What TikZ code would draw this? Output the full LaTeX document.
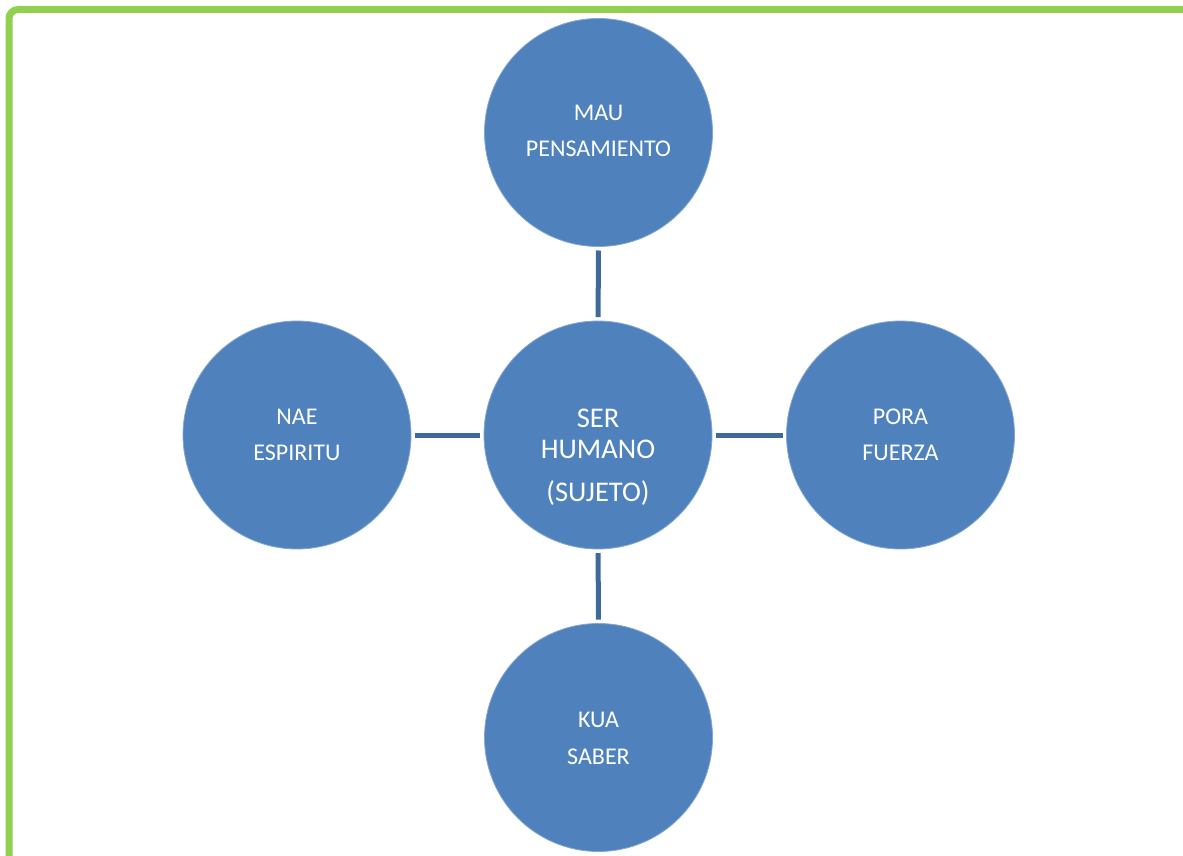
\documentclass[tikz,border=0pt]{standalone}
\usepackage{fontspec}
\setmainfont{Carlito}
\definecolor{circblue}{HTML}{4F81BD}
\definecolor{linkblue}{HTML}{3E6A9B}
\definecolor{framegreen}{HTML}{92D050}
\begin{document}
\begin{tikzpicture}[x=1pt,y=-1pt,
  bubble/.style={circle,fill=circblue,draw=circblue!70!white,line width=0.8pt,minimum size=228pt,inner sep=0pt,outer sep=0pt},
  txt/.style={text=white,font=\fontsize{24}{36}\selectfont,anchor=base,inner sep=0pt},
  bigtxt/.style={text=white,font=\fontsize{28.5}{36}\selectfont,anchor=base,inner sep=0pt},
  link/.style={draw=linkblue,line width=5pt,shorten <=4pt,shorten >=4pt}]
\useasboundingbox (0,0) rectangle (1183,856);
\clip (0,0) rectangle (1183,856);
\fill[white] (0,0) rectangle (1183,856);
\draw[framegreen,line width=7pt,rounded corners=9pt] (9,870) -- (9,9.5) -- (1200,9.5);
\node[bubble] (c) at (598,435) {};
\node[bubble] (top) at (598.5,132.5) {};
\node[bubble] (left) at (297,435) {};
\node[bubble] (right) at (900.5,435) {};
\node[bubble] (bot) at (598.5,737.5) {};
\draw[link] (top) -- (c);
\draw[link] (left) -- (c);
\draw[link] (c) -- (right);
\draw[link] (c) -- (bot);
\node[bigtxt] (c1) at (598,427) {SER};
\node[bigtxt] (c2) at (598,458) {HUMANO};
\node[bigtxt] (c3) at (598,501) {(SUJETO)};
\node[txt] (t1) at (598.5,121) {MAU};
\node[txt] (t2) at (598.5,157) {PENSAMIENTO};
\node[txt] (l1) at (297,424) {NAE};
\node[txt] (l2) at (297,460) {ESPIRITU};
\node[txt] (r1) at (900.5,424) {PORA};
\node[txt] (r2) at (900.5,460) {FUERZA};
\node[txt] (b1) at (598.5,727) {KUA};
\node[txt] (b2) at (598.5,764) {SABER};
\end{tikzpicture}
\end{document}
